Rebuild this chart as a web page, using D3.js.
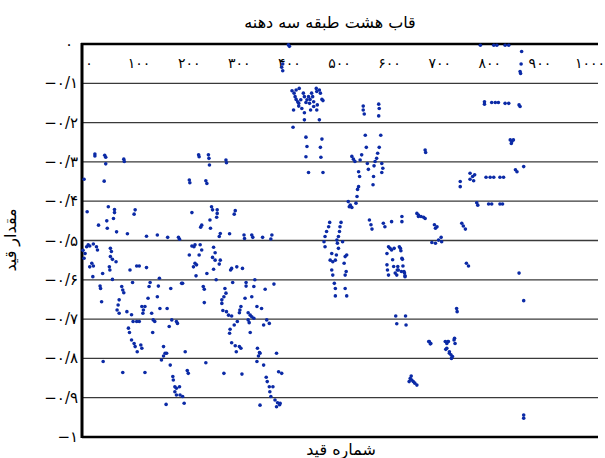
<!DOCTYPE html>
<html><head><meta charset="utf-8">
<script src="https://cdn.jsdelivr.net/npm/d3@7"></script>
<style>body{margin:0;background:#fff}svg{display:block}</style>
</head><body>
<script>
const chartTitle = "قاب هشت طبقه سه دهنه";
const xAxisTitle = "شماره قید";
const yAxisTitle = "مقدار قید";
const xTicks = [0,100,200,300,400,500,600,700,800,900,1000];
const xTickLabels = ["۰","۱۰۰","۲۰۰","۳۰۰","۴۰۰","۵۰۰","۶۰۰","۷۰۰","۸۰۰","۹۰۰","۱۰۰۰"];
const yTicks = [0,-0.1,-0.2,-0.3,-0.4,-0.5,-0.6,-0.7,-0.8,-0.9,-1];
const yTickLabels = ["۰","−۰/۱","−۰/۲","−۰/۳","−۰/۴","−۰/۵","−۰/۶","−۰/۷","−۰/۸","−۰/۹","−۱"];

// constraint number / constraint value
const group1 = [[25,-0.280],[25,-0.285],[44,-0.283],[46,-0.288],[46,-0.305],[81,-0.293],[82,-0.299],[4,-0.344],[43,-0.349],
[10,-0.427],[51,-0.414],[63,-0.421],[63,-0.429],[61,-0.444],[48,-0.450],[32,-0.461],[49,-0.469],[67,-0.478],[88,-0.483],[103,-0.422],[101,-0.433],[125,-0.489],[146,-0.486],[166,-0.492],[187,-0.492],[189,-0.497],
[6,-0.533],[9,-0.516],[12,-0.511],[15,-0.514],[22,-0.509],[28,-0.516],[30,-0.524],[19,-0.558],[22,-0.565],[15,-0.567],[21,-0.592],[40,-0.584],[55,-0.520],[57,-0.528],[55,-0.541],[59,-0.548],[53,-0.567],[54,-0.575],[66,-0.554],[93,-0.575],[106,-0.565],[111,-0.565],[125,-0.569],[150,-0.596],[59,-0.599],[98,-0.607],[132,-0.607],[130,-0.617],[148,-0.616],[172,-0.622],[195,-0.609],[2,-0.525],[4,-0.545],
[35,-0.616],[36,-0.622],[38,-0.656],[77,-0.617],[79,-0.626],[81,-0.633],[72,-0.651],[70,-0.664],[68,-0.677],[72,-0.685],[87,-0.681],[96,-0.689],[128,-0.647],[146,-0.643],[116,-0.668],[119,-0.677],[122,-0.668],[118,-0.685],[135,-0.685],[138,-0.702],[141,-0.706],[151,-0.673],[165,-0.673],[169,-0.719],[174,-0.702],[183,-0.706],[185,-0.711],[99,-0.706],[106,-0.706],[111,-0.706],[137,-0.734],
[90,-0.723],[92,-0.734],[96,-0.753],[101,-0.762],[103,-0.770],[107,-0.783],[114,-0.766],[116,-0.774],[158,-0.770],[161,-0.787],[154,-0.804],[158,-0.794],[164,-0.787],[200,-0.783],[41,-0.808],
[79,-0.836],[122,-0.836],[171,-0.817],[176,-0.846],[177,-0.855],[180,-0.872],[183,-0.876],[189,-0.872],[180,-0.885],[183,-0.893],[190,-0.893],[195,-0.897],[198,-0.914],[163,-0.917]];

const group2 = [[226,-0.282],[227,-0.287],[245,-0.282],[246,-0.291],[247,-0.308],[279,-0.295],[280,-0.302],[208,-0.346],[209,-0.353],[240,-0.348],[242,-0.355],
[213,-0.429],[251,-0.414],[253,-0.422],[262,-0.422],[262,-0.431],[261,-0.441],[248,-0.448],[232,-0.461],[230,-0.466],[249,-0.469],[297,-0.424],[295,-0.433],[268,-0.482],[266,-0.490],[286,-0.483],[314,-0.486],[315,-0.495],[329,-0.486],[331,-0.492],[350,-0.492],[368,-0.486],[366,-0.496],
[213,-0.514],[217,-0.516],[219,-0.511],[208,-0.537],[229,-0.511],[232,-0.524],[227,-0.537],[255,-0.517],[258,-0.531],[253,-0.543],[258,-0.550],[268,-0.550],[266,-0.560],[219,-0.558],[216,-0.567],[222,-0.562],[221,-0.590],[242,-0.584],[255,-0.573],[288,-0.575],[290,-0.571],[300,-0.567],[311,-0.571],[260,-0.600],[292,-0.607],[318,-0.616],[318,-0.607],[335,-0.600],[333,-0.617],[355,-0.624],[372,-0.611],[193,-0.609],
[235,-0.617],[237,-0.624],[277,-0.622],[279,-0.634],[275,-0.643],[237,-0.658],[271,-0.651],[271,-0.660],[273,-0.678],[280,-0.681],[284,-0.690],[290,-0.692],[308,-0.668],[306,-0.677],[305,-0.684],[316,-0.647],[329,-0.643],[339,-0.668],[348,-0.673],[322,-0.684],[326,-0.690],[329,-0.694],[322,-0.702],[324,-0.709],[333,-0.698],
[301,-0.706],[295,-0.715],[287,-0.726],[286,-0.736],[358,-0.702],[363,-0.711],[352,-0.715],[326,-0.734],
[290,-0.760],[297,-0.768],[299,-0.783],[305,-0.770],[308,-0.774],[340,-0.774],[344,-0.785],[342,-0.794],[339,-0.808],[345,-0.787],[377,-0.787],
[240,-0.811],[204,-0.831],[206,-0.838],[275,-0.838],[310,-0.840],[352,-0.817],[357,-0.848],[359,-0.859],[363,-0.872],[364,-0.885],[366,-0.897],[370,-0.872],[381,-0.834],[387,-0.838],[374,-0.906],[379,-0.913],[383,-0.918],[377,-0.923],[384,-0.914],[345,-0.919]];

const group3 = [[400,-0.002],[402,-0.006],[389,-0.051],[387,-0.059],[389,-0.068],
[407,-0.119],[411,-0.125],[413,-0.134],[415,-0.141],[418,-0.147],[421,-0.113],[420,-0.151],[420,-0.158],[410,-0.168],[429,-0.125],[431,-0.134],[426,-0.164],[431,-0.175],[431,-0.193],[439,-0.134],[442,-0.141],[441,-0.151],[445,-0.125],[447,-0.134],[449,-0.147],[454,-0.113],[455,-0.121],[460,-0.117],[462,-0.125],[465,-0.141],[467,-0.144],[456,-0.155],[455,-0.168],[443,-0.168],[460,-0.193],[409,-0.212],[415,-0.117],[424,-0.142],[436,-0.142],[434,-0.149],[449,-0.159],
[545,-0.158],[545,-0.168],[547,-0.178],[575,-0.153],[576,-0.164],[575,-0.183],
[434,-0.237],[436,-0.261],[434,-0.287],[439,-0.327],[465,-0.242],[462,-0.263],[463,-0.288],[467,-0.327],
[549,-0.232],[551,-0.263],[542,-0.282],[539,-0.295],[579,-0.232],[576,-0.263],[573,-0.278],[571,-0.291],[523,-0.286],[526,-0.293],[529,-0.299],[553,-0.304],[555,-0.319],[568,-0.299],[566,-0.310],[581,-0.304],[583,-0.316],[581,-0.327],[536,-0.325],[538,-0.337],[565,-0.337],[564,-0.358],[536,-0.363],[534,-0.370],[533,-0.388],[531,-0.405],[516,-0.401],[520,-0.410],[518,-0.414],[523,-0.416],
[480,-0.454],[478,-0.465],[474,-0.477],[471,-0.490],[502,-0.454],[500,-0.465],[499,-0.477],[497,-0.490],[469,-0.503],[471,-0.516],[494,-0.499],[495,-0.507],[497,-0.520],[505,-0.503],[484,-0.533],[481,-0.550],[486,-0.554],[484,-0.575],[486,-0.588],[493,-0.537],[491,-0.550],[510,-0.541],[513,-0.537],[508,-0.558],[512,-0.579],[510,-0.588],[489,-0.609],[491,-0.622],[491,-0.641],[510,-0.622],[513,-0.641],
[557,-0.448],[560,-0.460],[562,-0.471],[584,-0.456],[587,-0.465],[600,-0.452],[620,-0.439],[620,-0.452],[649,-0.431],[652,-0.439],
[594,-0.516],[597,-0.520],[600,-0.524],[615,-0.516],[618,-0.526],[605,-0.520],[591,-0.533],[591,-0.562],[592,-0.575],[594,-0.588],[602,-0.549],[604,-0.566],[607,-0.583],[610,-0.588],[611,-0.575],[620,-0.545],[622,-0.565],[624,-0.579],[626,-0.592],
[608,-0.692],[610,-0.712],[627,-0.692],[628,-0.715],
[636,-0.851],[639,-0.855],[642,-0.859],[645,-0.863],[649,-0.868],[634,-0.859],[638,-0.845],
[673,-0.757],[676,-0.762],[704,-0.757],[707,-0.762],[710,-0.757],[705,-0.777],[712,-0.787],[716,-0.800],[721,-0.753],[723,-0.762],[726,-0.673],[727,-0.681],[745,-0.558],[749,-0.565]];

const group4 = [[772,-0.003],[798,-0.003],[804,-0.003],[820,-0.003],[827,-0.003],[852,-0.019],[851,-0.051],[849,-0.070],[850,-0.075],
[780,-0.147],[780,-0.153],[794,-0.149],[801,-0.149],[807,-0.149],[820,-0.151],[827,-0.151],[847,-0.155],[849,-0.159],
[665,-0.270],[666,-0.276],[830,-0.244],[833,-0.248],[836,-0.244],[832,-0.253],
[733,-0.350],[733,-0.363],[752,-0.329],[757,-0.337],[761,-0.333],[752,-0.344],[759,-0.348],[783,-0.339],[791,-0.339],[798,-0.339],[810,-0.339],[817,-0.339],[840,-0.320],[843,-0.325],[856,-0.312],
[765,-0.404],[767,-0.410],[788,-0.407],[794,-0.407],[810,-0.407],[815,-0.407],
[652,-0.435],[657,-0.439],[662,-0.441],[665,-0.444],
[683,-0.460],[688,-0.465],[685,-0.469],[736,-0.456],[739,-0.463],[743,-0.471],
[678,-0.505],[685,-0.507],[691,-0.499],[696,-0.492],[697,-0.503],
[617,-0.520],[621,-0.548],[612,-0.566],[613,-0.575],[619,-0.579],[625,-0.583],[626,-0.590],
[847,-0.583],[856,-0.653],
[672,-0.757],[675,-0.763],[709,-0.757],[707,-0.774],[712,-0.783],[715,-0.791],[718,-0.795],[722,-0.749],
[856,-0.944],[856,-0.952]];

const points = group1.concat(group2, group3, group4);

const W = 605, H = 458;
const svg = d3.select("body").append("svg").attr("width", W).attr("height", H);
const x = d3.scaleLinear().domain([0, 1000]).range([82, 598]);
const xLabel = d3.scaleLinear().domain([0, 1000]).range([89, 590]);
const y = d3.scaleLinear().domain([-1, 0]).range([437, 44]);
const font = "DejaVu Sans, sans-serif";

// gridlines
svg.append("g").selectAll("line").data(yTicks.filter(v => v < 0 && v > -1)).join("line")
  .attr("x1", x(0)).attr("x2", x(1000)).attr("y1", d => y(d)).attr("y2", d => y(d))
  .attr("stroke", "#3a3a3a").attr("stroke-width", 1.3);
// bottom line
svg.append("line").attr("x1", x(0)).attr("x2", x(1000)).attr("y1", y(-1)).attr("y2", y(-1))
  .attr("stroke", "#000").attr("stroke-width", 2.5);
// top axis line
svg.append("line").attr("x1", x(0) - 1).attr("x2", x(1000)).attr("y1", y(0)).attr("y2", y(0))
  .attr("stroke", "#000").attr("stroke-width", 2.5);
// left axis
svg.append("line").attr("x1", x(0)).attr("x2", x(0)).attr("y1", y(0) - 1).attr("y2", y(-1) + 1)
  .attr("stroke", "#000").attr("stroke-width", 3);

// x tick labels
svg.append("g").selectAll("text").data(xTicks).join("text")
  .attr("x", d => xLabel(d)).attr("y", 68)
  .attr("text-anchor", "middle").attr("font-family", font).attr("font-size", 14)
  .attr("direction", "ltr").attr("unicode-bidi", "bidi-override")
  .text((d, i) => xTickLabels[i]);

// y tick labels
svg.append("g").selectAll("text").data(yTicks).join("text")
  .attr("x", d => d === 0 ? 73 : 78).attr("y", d => y(d) + 5)
  .attr("text-anchor", "end").attr("font-family", font).attr("font-size", 15)
  .attr("direction", "ltr").attr("unicode-bidi", "bidi-override")
  .text((d, i) => yTickLabels[i]);

// points
svg.append("g").selectAll("circle").data(points).join("circle")
  .attr("cx", d => x(d[0])).attr("cy", d => y(d[1])).attr("r", 1.8)
  .attr("fill", "#0b2aa6");

// titles
svg.append("text").attr("x", 330).attr("y", 28).attr("text-anchor", "middle")
  .attr("font-family", font).attr("font-size", 16).text(chartTitle);
svg.append("text").attr("x", 341).attr("y", 455).attr("text-anchor", "middle")
  .attr("font-family", font).attr("font-size", 16).text(xAxisTitle);
svg.append("text").attr("transform", "translate(16,240) rotate(-90)").attr("text-anchor", "middle")
  .attr("font-family", font).attr("font-size", 16).text(yAxisTitle);
</script>
</body></html>
